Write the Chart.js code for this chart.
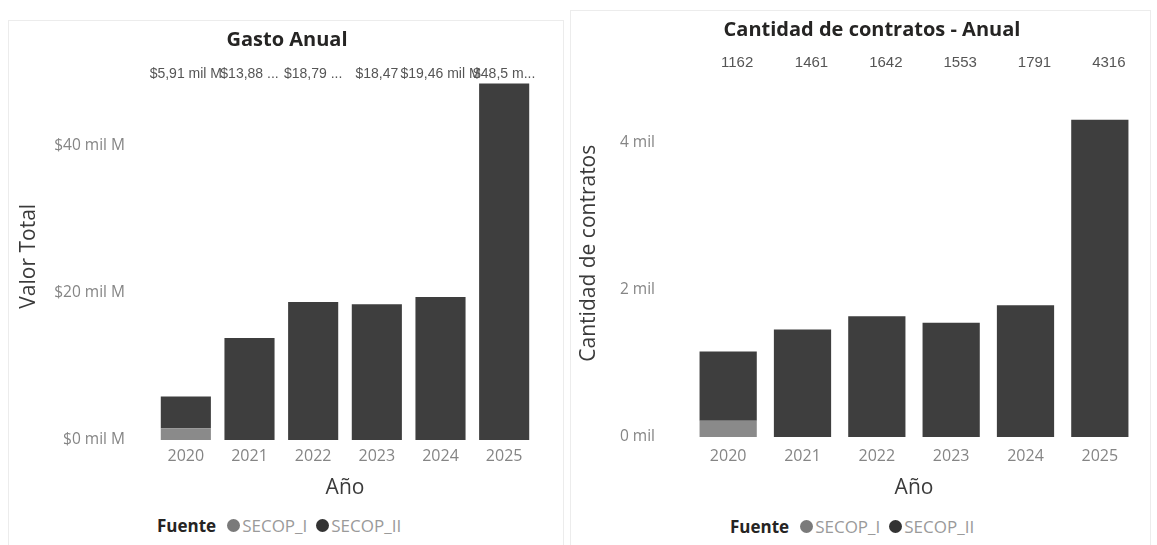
<!DOCTYPE html>
<html>
<head>
<meta charset="utf-8">
<script src="https://cdn.jsdelivr.net/npm/chart.js@4/dist/chart.umd.min.js"></script>
<style>
  html, body { margin:0; padding:0; background:#ffffff; width:1157px; height:545px; overflow:hidden; }
  .panel { position:absolute; border:1px solid #ececec; box-sizing:border-box; }
  canvas { position:absolute; top:0; }
  .legend { position:absolute; display:flex; align-items:center; height:24px; font-family:"Open Sans", sans-serif; font-size:17px; white-space:nowrap; }
  .legend .ttl { font-weight:bold; color:#252423; margin-right:11px; }
  .legend .dot { width:13px; height:13px; border-radius:50%; display:inline-block; margin-right:2px; }
  .legend .lbl { color:#9a9a9a; margin-right:9px; }
</style>
</head>
<body>
<div class="panel" style="left:8px; top:20px; width:556px; height:540px;"></div>
<div class="panel" style="left:570px; top:10px; width:581px; height:550px;"></div>
<canvas id="c1" width="566" height="505" style="left:0px; width:566px; height:505px;"></canvas>
<canvas id="c2" width="589" height="505" style="left:568px; width:589px; height:505px;"></canvas>
<div class="legend" style="left:157px; top:513px;">
  <span class="ttl">Fuente</span>
  <span class="dot" style="background:#7a7a7a"></span><span class="lbl">SECOP_I</span>
  <span class="dot" style="background:#333333"></span><span class="lbl">SECOP_II</span>
</div>
<div class="legend" style="left:730px; top:514px;">
  <span class="ttl">Fuente</span>
  <span class="dot" style="background:#7a7a7a"></span><span class="lbl">SECOP_I</span>
  <span class="dot" style="background:#333333"></span><span class="lbl">SECOP_II</span>
</div>
<script>
// ---- Data ----
const years = ["2020", "2021", "2022", "2023", "2024", "2025"];
// Gasto anual (mil M)
const gastoSecop1 = [1.6, 0, 0, 0, 0, 0];
const gastoSecop2 = [4.31, 13.88, 18.79, 18.47, 19.46, 48.5];
const gastoLabels = ["$5,91 mil M", "$13,88 ...", "$18,79 ...", "$18,47", "$19,46 mil M", "$48,5 m..."];
const gastoTicks = [0, 20, 40];
// Cantidad de contratos
const contratosSecop1 = [220, 0, 0, 0, 0, 0];
const contratosSecop2 = [942, 1461, 1642, 1553, 1791, 4316];
const contratosLabels = ["1162", "1461", "1642", "1553", "1791", "4316"];
const contratosTicks = [0, 2000, 4000];

const COL1 = "#8a8a8a";
const COL2 = "#3e3e3e";
const FONT = "'Open Sans', sans-serif";

const topLabels = {
  id: "topLabels",
  afterDatasetsDraw(chart, args, o) {
    const ctx = chart.ctx;
    const meta = chart.getDatasetMeta(chart.data.datasets.length - 1);
    ctx.save();
    ctx.textAlign = "center";
    ctx.textBaseline = "middle";
    ctx.font = o.labelFont;
    ctx.fillStyle = "#555555";
    meta.data.forEach((bar, i) => {
      ctx.fillText(o.texts[i], bar.x + o.dx, o.y);
    });
    ctx.font = "bold 20px " + FONT;
    ctx.fillStyle = "#252423";
    ctx.fillText(o.title, o.titleX, o.titleY);
    ctx.restore();
  }
};

function makeChart(id, cfg) {
  return new Chart(document.getElementById(id), {
    type: "bar",
    data: {
      labels: years,
      datasets: [
        { label: "SECOP_I", data: cfg.s1, backgroundColor: COL1, borderWidth: 0,
          categoryPercentage: 1, barPercentage: cfg.barPct },
        { label: "SECOP_II", data: cfg.s2, backgroundColor: COL2, borderWidth: 0,
          categoryPercentage: 1, barPercentage: cfg.barPct }
      ]
    },
    options: {
      responsive: false,
      animation: false,
      layout: { padding: cfg.padding },
      plugins: {
        legend: { display: false },
        tooltip: { enabled: false },
        topLabels: cfg.top
      },
      scales: {
        x: {
          stacked: true,
          grid: { display: false, drawTicks: false },
          border: { display: false },
          ticks: { color: "#858585", font: { family: FONT, size: 16 }, padding: cfg.xTickPad },
          title: { display: true, text: "Año", color: "#3a3a3a",
                   font: { family: FONT, size: 21 }, padding: { top: 0, bottom: 4 } },
          afterFit(s) { s.height = cfg.xHeight; }
        },
        y: {
          stacked: true,
          min: 0,
          max: cfg.yMax,
          grid: { display: false, drawTicks: false },
          border: { display: false },
          afterBuildTicks(s) { s.ticks = cfg.ticks.map(v => ({ value: v })); },
          ticks: { color: "#858585", font: { family: FONT, size: 15.5 }, padding: cfg.yTickPad,
                   callback: cfg.tickFmt },
          title: { display: true, text: cfg.yTitle, color: "#3a3a3a",
                   font: { family: FONT, size: 21 }, padding: { top: cfg.yTitlePad, bottom: 0 } },
          afterFit(s) { s.width = cfg.yWidth; }
        }
      }
    },
    plugins: [topLabels]
  });
}

makeChart("c1", {
  s1: gastoSecop1, s2: gastoSecop2, barPct: 0.787,
  padding: { left: 0, right: 30, top: 72.5, bottom: 0 },
  xHeight: 65, xTickPad: 7, yWidth: 154, yTickPad: 29, yTitlePad: 16,
  yMax: 50, ticks: gastoTicks, yTitle: "Valor Total",
  tickFmt: v => "$" + v + " mil M",
  top: { texts: gastoLabels, dx: 0, y: 74.5, labelFont: "14px 'Liberation Sans', Arial, sans-serif",
         title: "Gasto Anual", titleX: 287, titleY: 40 }
});

makeChart("c2", {
  s1: contratosSecop1, s2: contratosSecop2, barPct: 0.77,
  padding: { left: 0, right: 20, top: 69.4, bottom: 0 },
  xHeight: 68, xTickPad: 9.4, yWidth: 123, yTickPad: 36, yTitlePad: 8,
  yMax: 5000, ticks: contratosTicks, yTitle: "Cantidad de contratos",
  tickFmt: v => (v / 1000) + " mil",
  top: { texts: contratosLabels, dx: 9, y: 62.5, labelFont: "15px 'Liberation Sans', Arial, sans-serif",
         title: "Cantidad de contratos - Anual", titleX: 304, titleY: 30 }
});
</script>
</body>
</html>
